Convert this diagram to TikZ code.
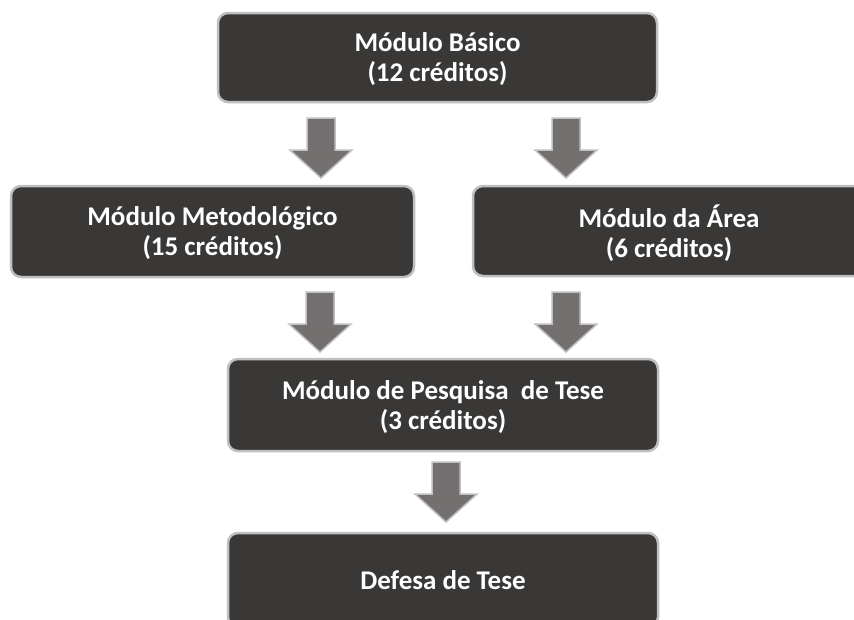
\documentclass[tikz,border=0pt]{standalone}
\usepackage{fontspec}
\setmainfont{Carlito}

\definecolor{caixafundo}{HTML}{3A3836}
\definecolor{caixaborda}{HTML}{BFBFBF}
\definecolor{setafundo}{HTML}{757070}

\tikzset{
  modulo/.style={draw=caixaborda, line width=2.5pt, fill=caixafundo,
    rounded corners=10pt, text=white, align=center, inner sep=0pt,
    text depth=0pt, font=\bfseries\fontsize{27}{30}\selectfont},
  setaforma/.style={draw=caixaborda, line width=1.5pt, fill=setafundo,
    line join=miter},
  % seta larga, com a ponta na origem
  seta/.pic={
    \draw[setaforma] (0,0) -- (-31,28) -- (-14,28) -- (-14,60)
      -- (14,60) -- (14,28) -- (31,28) -- cycle;
  }
}

\begin{document}
\begin{tikzpicture}[x=1pt,y=1pt]
    \useasboundingbox (0,0) rectangle (854,-619);
    % caixas
    \node[modulo, minimum width=439pt, minimum height=89pt] (basico) at (437.5,-57.5)
      {Módulo Básico\\(12 créditos)};
    \node[modulo, minimum width=403pt, minimum height=91pt] (metodo) at (212.5,-231.5)
      {Módulo Metodológico\\(15 créditos)};
    \node[modulo, minimum width=392pt, minimum height=90pt] (area) at (669,-231)
      {Módulo da Área\\(6 créditos)};
    \node[modulo, minimum width=430pt, minimum height=92pt] (pesquisa) at (443,-405)
      {Módulo de Pesquisa\ \ de Tese\\(3 créditos)};
    \node[modulo, minimum width=430pt, minimum height=94pt] (defesa) at (443,-580)
      {Defesa de Tese};
    % setas
    \pic at (321,-178) {seta};
    \pic at (566,-178) {seta};
    \pic at (320,-352) {seta};
    \pic at (566,-352) {seta};
    \pic at (446,-522) {seta};
\end{tikzpicture}
\end{document}
